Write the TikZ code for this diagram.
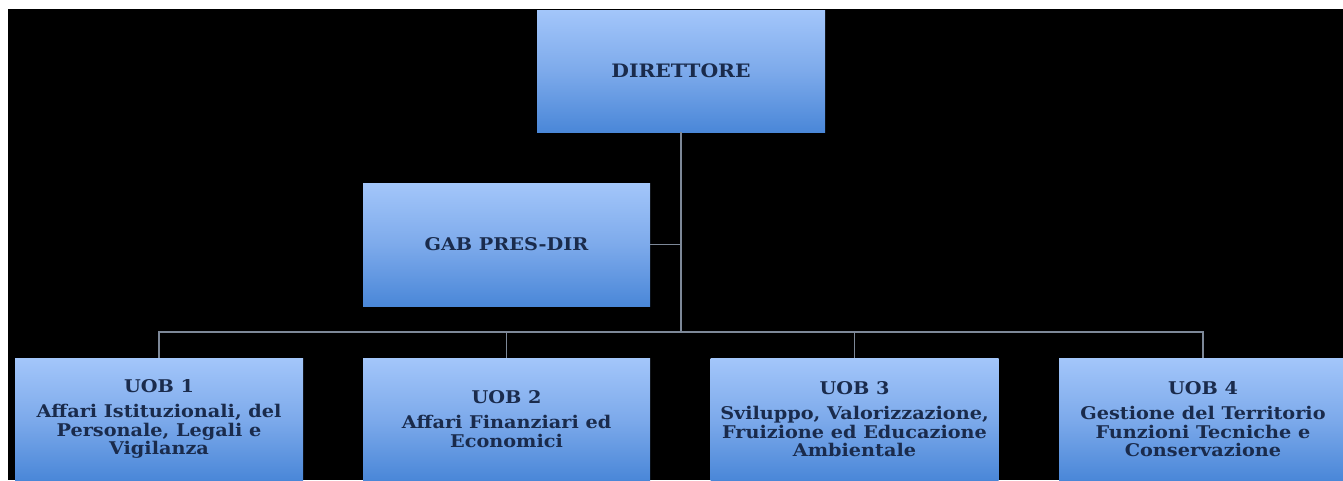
\documentclass[tikz,border=0pt]{standalone}
\usepackage{fontspec}
\setmainfont{DejaVu Serif}[FakeStretch=1.1]
\definecolor{boxtop}{HTML}{A3C6FA}
\definecolor{boxmid}{HTML}{7DAAEB}
\definecolor{boxbot}{HTML}{4A87D8}
\definecolor{txt}{HTML}{1A2B4C}
\definecolor{wire}{HTML}{7D8898}
\tikzset{
  orgbox/.style={rectangle, inner sep=0pt, minimum width=288pt, minimum height=122pt,
    top color=boxtop, bottom color=boxbot, middle color=boxmid,
    text=txt, align=center, font=\bfseries\fontsize{17.5}{18.5}\selectfont},
  wireline/.style={draw=wire, line width=1.4pt}
}
\begin{document}
\begin{tikzpicture}[x=1pt,y=-1pt]
\useasboundingbox (0,0) rectangle (1343,480);
\fill[white] (0,0) rectangle (1343,480);
\fill[black] (8,9) rectangle (1343,480);
\begin{scope}
\clip (8,9) rectangle (1343,480);
\node[orgbox, font=\bfseries\fontsize{18.5}{20}\selectfont] (dir) at (681,71) {DIRETTORE};
\node[orgbox, minimum width=287pt, minimum height=123pt] (gab) at (506.5,244.5) {GAB PRES-DIR};
\node[orgbox] (u1) at (159,419) {UOB 1\\[7pt]Affari Istituzionali, del\\Personale, Legali e\\Vigilanza};
\node[orgbox, minimum width=287pt] (u2) at (506.5,419) {UOB 2\\[7pt]Affari Finanziari ed\\Economici};
\node[orgbox] (u3) at (854.5,419) {UOB 3\\[7pt]Sviluppo, Valorizzazione,\\Fruizione ed Educazione\\Ambientale};
\node[orgbox] (u4) at (1203,419) {UOB 4\\[7pt]Gestione del Territorio\\Funzioni Tecniche e\\Conservazione};
\coordinate (bus) at (681,332);
\draw[wireline] (dir.south) -- (bus);
\draw[wireline] (gab.east) -- (gab.east -| bus);
\draw[wireline] (u1.north) |- (bus);
\draw[wireline] (u2.north) |- (bus);
\draw[wireline] (u3.north) |- (bus);
\draw[wireline] (u4.north) |- (bus);
\end{scope}
\end{tikzpicture}
\end{document}
